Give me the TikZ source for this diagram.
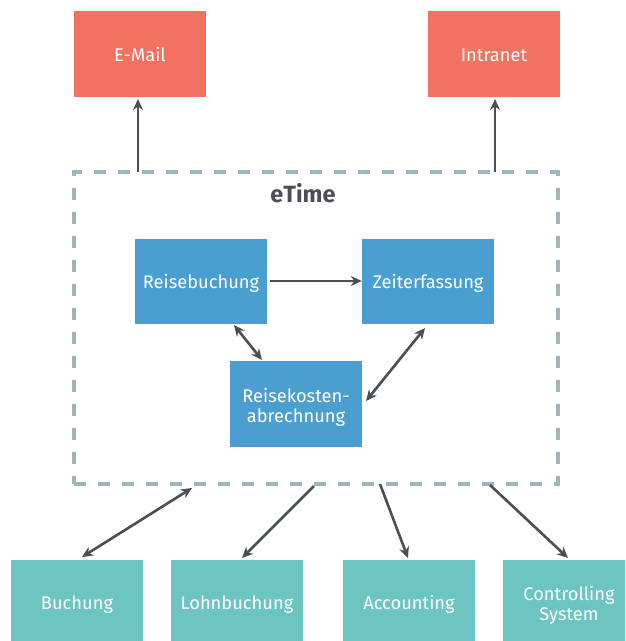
\documentclass[tikz,border=0pt]{standalone}
\usepackage{fontspec}
\setmainfont{Fira Sans}
\usetikzlibrary{arrows.meta}
\definecolor{coral}{HTML}{F27262}
\definecolor{modblue}{HTML}{4B9FD0}
\definecolor{systeal}{HTML}{6CC5C1}
\definecolor{frame}{HTML}{A0B4B9}
\definecolor{ink}{HTML}{4A4F55}
% box caption: centred lines, drawn slightly below the optical centre
\newcommand{\boxtext}[2][3pt]{\raisebox{-#1}[\height][\depth]{%
  \begin{tabular}{@{}c@{}}#2\end{tabular}}}
\begin{document}
\begin{tikzpicture}[x=1pt,y=-1pt,
  box/.style={rectangle,inner sep=0pt,minimum width=132pt,minimum height=86pt,
    text=white,font=\fontsize{18.3}{20}\selectfont},
  ext/.style={box,fill=coral},
  module/.style={box,fill=modblue},
  target/.style={box,fill=systeal},
  arr/.style={draw=ink,line width=2.6pt,-{Stealth[length=11pt,width=10pt]}},
  biarr/.style={draw=ink,line width=2.6pt,{Stealth[length=11pt,width=10pt]}-{Stealth[length=11pt,width=10pt]}}
]
\clip (0,0) rectangle (625,641);
\fill[white] (0,0) rectangle (625,641);

% system boundary
\node[draw=frame,line width=4pt,dash pattern=on 12pt off 12pt,
  minimum width=484pt,minimum height=312pt,inner sep=0pt] (etime) at (316,328) {};
\node[text=ink,font=\bfseries\fontsize{23.5}{26}\selectfont] (title) at (303,193) {eTime};

% external services
\node[ext] (email) at (140,54) {\boxtext{E-Mail}};
\node[ext] (intranet) at (494,54) {\boxtext{Intranet}};

% eTime modules
\node[module,minimum height=85pt] (reise) at (201,281.5) {\boxtext{Reisebuchung}};
\node[module,minimum height=85pt] (zeit) at (428,281.5) {\boxtext{Zeiterfassung}};
\node[module,minimum height=86pt] (rk) at (296,404) {\boxtext[4pt]{Reisekosten-\\abrechnung}};

% downstream systems
\node[target] (buchung) at (77,602.5) {\boxtext{Buchung}};
\node[target] (lohn) at (237,602.5) {\boxtext{Lohnbuchung}};
\node[target] (acc) at (409,602.5) {\boxtext{Accounting}};
\node[target] (ctrl) at (569,602.5) {\boxtext[4pt]{Controlling\\System}};

% anchor points on the boundary
\coordinate (pEmail) at (138,172);
\coordinate (pIntra) at (495,172);
\coordinate (pBuch) at (192,488);
\coordinate (pLohn) at (314,486);
\coordinate (pAcc) at (380,484);
\coordinate (pCtrl) at (490,485);

% connectors
\draw[arr] (pEmail) -- (138,99) coordinate (eEmail);
\draw[arr] (pIntra) -- (495,99) coordinate (eIntra);
\draw[arr] (270,281) coordinate (r1) -- (zeit.west |- 0,281) coordinate (z1);
\draw[biarr] (234,325) coordinate (r2) -- (262,360) coordinate (k1);
\draw[biarr] (425,328) coordinate (z2) -- (366,401) coordinate (k2);
\draw[biarr] (pBuch) -- (82,557) coordinate (b1);
\draw[arr] (pLohn) -- (242,558) coordinate (l1);
\draw[arr] (pAcc) -- (408,558) coordinate (a1);
\draw[arr] (pCtrl) -- (568,558) coordinate (c1);
\end{tikzpicture}
\end{document}
